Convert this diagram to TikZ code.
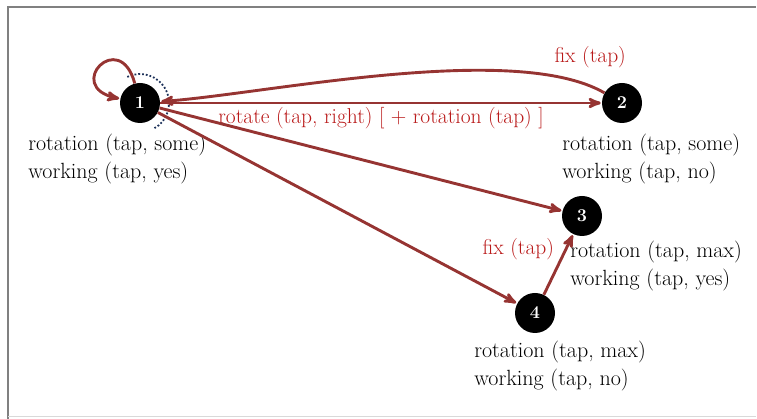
\documentclass[tikz,border=0pt]{standalone}
\usepackage{tikz}
\usetikzlibrary{arrows,automata,positioning}

\definecolor{edgered}{RGB}{150,52,50}
\definecolor{labelred}{RGB}{185,25,25}
\definecolor{dotblue}{RGB}{30,50,90}

\begin{document}
\begin{tikzpicture}[x=1pt,y=1pt,->,>=stealth',shorten >=1pt,auto,semithick]
\tikzstyle{every state}=[fill=black,draw=none,text=white,minimum size=40pt,inner sep=0pt,font=\bfseries\fontsize{18}{18}\selectfont]
\tikzstyle{every edge}=[draw,edgered,line width=2.9pt]
\tikzstyle{info}=[align=left,anchor=north west,inner sep=0pt,font=\fontsize{22}{28}\selectfont]
\tikzstyle{lab}=[text=labelred,inner sep=3pt,font=\fontsize{21.5}{24}\selectfont]

\useasboundingbox (0,0) rectangle (757,419);
\draw[-,gray,line width=2pt] (8,0) -- (8,412) -- (757,412);
\draw[-,black!15,line width=1pt] (8,2) -- (757,2);

\node[state] (1) at (140,316) {1};
\node[state] (2) at (622,316) {2};
\node[state] (3) at (582,203) {3};
\node[state] (4) at (535,106) {4};

\node[info] (i1) at (28,285)  {rotation (tap, some)\\working (tap, yes)};
\node[info] (i2) at (562,285) {rotation (tap, some)\\working (tap, no)};
\node[info] (i3) at (570,178) {rotation (tap, max)\\working (tap, yes)};
\node[info] (i4) at (474,78)  {rotation (tap, max)\\working (tap, no)};

\draw[-,dotblue,dotted,line width=1.8pt] (1) ++(116:29) arc (116:-62:29);

\path(1) edge node[lab,swap] {rotate (tap, right) [ + rotation (tap) ]} (2)
	edge (3)
	edge (4)
	edge [loop,out=105,in=168,looseness=7] (1)
(2) edge [out=150,in=4,looseness=0.6] node[lab,swap,pos=0.16,yshift=3pt] {fix (tap)} (1)
(4) edge node[lab] {fix (tap)} (3)
;
\end{tikzpicture}
\end{document}
